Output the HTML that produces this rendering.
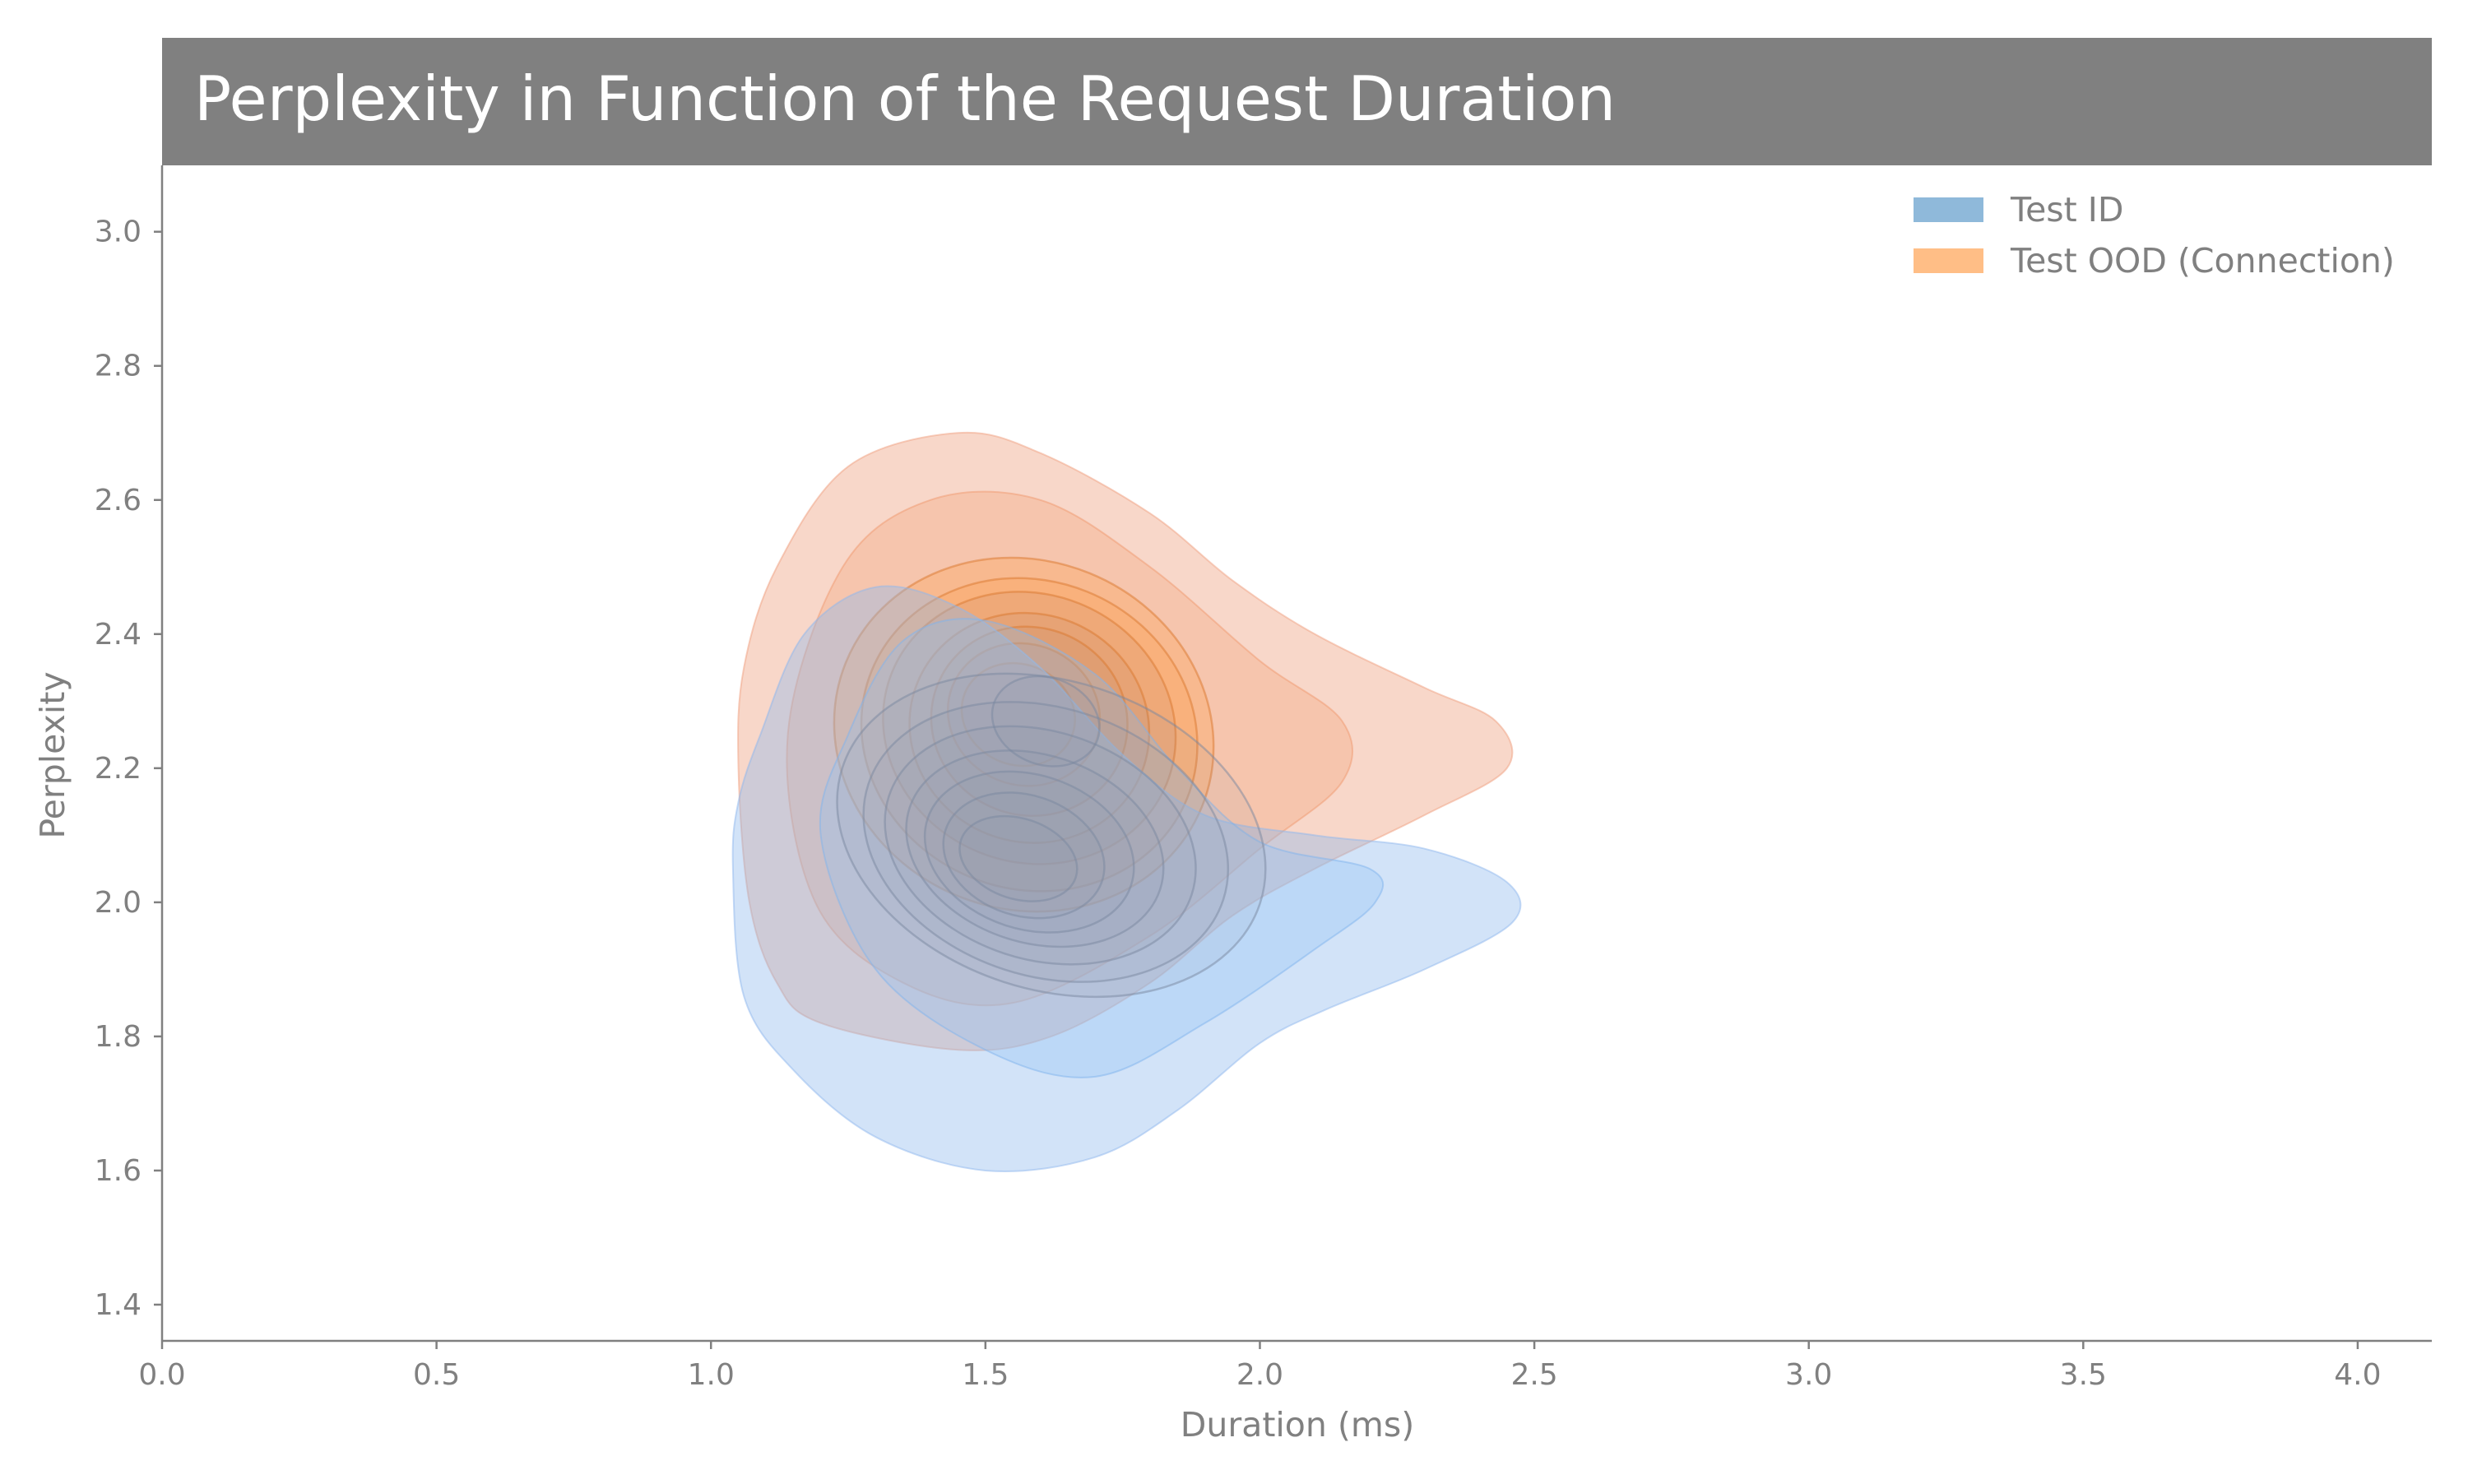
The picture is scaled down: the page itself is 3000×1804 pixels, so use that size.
<!DOCTYPE html>
<html><head><meta charset="utf-8">
<style>
html,body{margin:0;padding:0;background:#fff;}
body{width:3000px;height:1800px;overflow:hidden;font-family:"DejaVu Sans","Liberation Sans",sans-serif;}
svg text{font-family:"DejaVu Sans","Liberation Sans",sans-serif;}
</style></head>
<body>
<svg id="chart" width="3000" height="1800" viewBox="0 0 3000 1800" xmlns="http://www.w3.org/2000/svg">
  <rect x="197" y="46" width="2759" height="155" fill="#808080"/>
  <text x="236" y="146" font-size="75" fill="#ffffff">Perplexity in Function of the Request Duration</text>
  <g id="plot"></g>
  <g id="axes"></g>
  <g>
    <rect x="2326" y="240" width="85" height="30" fill="#8fb9da"/>
    <text x="2444" y="269" font-size="41" fill="#808080">Test ID</text>
    <rect x="2326" y="302" width="85" height="30" fill="#ffbe86"/>
    <text x="2444" y="331" font-size="41" fill="#808080">Test OOD (Connection)</text>
  </g>
  <text x="1577" y="1746" font-size="41" fill="#808080" text-anchor="middle">Duration (ms)</text>
  <text x="0" y="0" font-size="41" fill="#808080" text-anchor="middle" transform="translate(78,918) rotate(-90)">Perplexity</text>
</svg>
<script>
const xTicks = [0.0,0.5,1.0,1.5,2.0,2.5,3.0,3.5,4.0];
const yTicks = [1.4,1.6,1.8,2.0,2.2,2.4,2.6,2.8,3.0];
// outer contour levels (data coords: duration, perplexity)
const idOuter = [[1.04,2.05],[1.06,1.86],[1.15,1.75],[1.3,1.65],[1.5,1.60],[1.7,1.62],[1.85,1.69],[2.0,1.79],[2.12,1.84],[2.3,1.90],[2.46,1.97],[2.45,2.03],[2.3,2.08],[2.1,2.10],[1.9,2.13],[1.75,2.22],[1.6,2.35],[1.45,2.44],[1.3,2.47],[1.17,2.40],[1.09,2.25],[1.05,2.15]];
const idSecond = [[1.2,2.1],[1.3,1.9],[1.5,1.78],[1.7,1.74],[1.9,1.82],[2.1,1.93],[2.21,2.0],[2.2,2.05],[2.0,2.09],[1.85,2.2],[1.7,2.34],[1.5,2.42],[1.35,2.39],[1.25,2.25]];
const oodOuter = [[1.05,2.2],[1.07,2.0],[1.12,1.88],[1.2,1.82],[1.45,1.78],[1.62,1.80],[1.8,1.88],[1.95,1.98],[2.1,2.05],[2.3,2.13],[2.45,2.2],[2.43,2.27],[2.3,2.32],[2.1,2.40],[1.95,2.48],[1.8,2.58],[1.6,2.67],[1.45,2.70],[1.25,2.65],[1.12,2.5],[1.06,2.35]];
const oodSecond = [[1.14,2.25],[1.19,2.0],[1.35,1.88],[1.55,1.85],[1.8,1.95],[2.0,2.08],[2.15,2.18],[2.15,2.27],[2.0,2.36],[1.8,2.5],[1.6,2.6],[1.4,2.6],[1.24,2.5]];
// inner contour ellipses
const oodCx = [1.57,1.58,1.58,1.58,1.58,1.57,1.56];
const oodCy = [2.25,2.25,2.26,2.26,2.27,2.28,2.28];
const oodRx = [0.35,0.31,0.27,0.22,0.18,0.14,0.105];
const oodRy = [0.26,0.23,0.20,0.17,0.14,0.105,0.075];
const idCx = [1.62,1.61,1.60,1.59,1.58,1.57,1.56,1.61];
const idCy = [2.10,2.09,2.085,2.08,2.075,2.07,2.065,2.27];
const idRx = [0.40,0.34,0.29,0.24,0.195,0.15,0.11,0.10];
const idRy = [0.23,0.20,0.17,0.14,0.115,0.09,0.06,0.065];

const X0=197, X1=2956, Y0=1630, Y1=201;
const XMIN=0, XMAX=4.135, YMIN=1.346, YMAX=3.099;
function sx(v){return X0+(v-XMIN)/(XMAX-XMIN)*(X1-X0);}
function sy(v){return Y0-(v-YMIN)/(YMAX-YMIN)*(Y0-Y1);}
const NS='http://www.w3.org/2000/svg';
const plot=document.getElementById('plot');
const axes=document.getElementById('axes');

function smoothPath(pts){
  const p=pts.map(q=>[sx(q[0]),sy(q[1])]);const n=p.length;
  let d='M'+p[0][0]+','+p[0][1];
  for(let i=0;i<n;i++){
    const p0=p[(i-1+n)%n],p1=p[i],p2=p[(i+1)%n],p3=p[(i+2)%n];
    const c1=[p1[0]+(p2[0]-p0[0])/6,p1[1]+(p2[1]-p0[1])/6];
    const c2=[p2[0]-(p3[0]-p1[0])/6,p2[1]-(p3[1]-p1[1])/6];
    d+=' C'+c1+' '+c2+' '+p2;
  }
  return d+'Z';
}
function addPoly(pts,fill,op,stroke,name){
  const el=document.createElementNS(NS,'path');
  el.setAttribute('d',smoothPath(pts));
  el.setAttribute('fill',fill);el.setAttribute('fill-opacity',op);
  el.setAttribute('stroke',stroke);el.setAttribute('stroke-width','2');el.setAttribute('stroke-opacity','0.5');
  
  
  plot.appendChild(el);
}
function addEll(cx,cy,rx,ry,rot,fill,op,stroke,name){
  const el=document.createElementNS(NS,'ellipse');
  const px=sx(cx),py=sy(cy);
  el.setAttribute('cx',px);el.setAttribute('cy',py);
  el.setAttribute('rx',sx(cx+rx)-px);el.setAttribute('ry',py-sy(cy+ry));
  el.setAttribute('transform','rotate('+rot+' '+px+' '+py+')');
  el.setAttribute('fill',fill);el.setAttribute('fill-opacity',op);
  el.setAttribute('stroke',stroke);el.setAttribute('stroke-width','2.5');el.setAttribute('stroke-opacity','0.5');
  
  
  plot.appendChild(el);
}
// orange series
addPoly(oodOuter,'#eea07f',0.42,'#f0a080','ood-contour-1');
addPoly(oodSecond,'#f4a278',0.35,'#f09a70','ood-contour-2');
for(let i=0;i<oodCx.length;i++){
  addEll(oodCx[i],oodCy[i],oodRx[i],oodRy[i],22,i<2?'#fca35a':'#c98a68',i<2?0.35:0.2,'#d9782e','ood-contour-'+(i+3));
}
// blue series
addPoly(idOuter,'#8fb8ee',0.40,'#8fb8ee','id-contour-1');
addPoly(idSecond,'#8cc0f5',0.30,'#80b4ee','id-contour-2');
for(let i=0;i<idCx.length;i++){
  addEll(idCx[i],idCy[i],idRx[i],idRy[i],i===idCx.length-1?20:18,'#8090a8',0.09,'#7a88a0','id-contour-'+(i+3));
}
// axes
function line(x1,y1,x2,y2,name){
  const l=document.createElementNS(NS,'line');
  l.setAttribute('x1',x1);l.setAttribute('y1',y1);l.setAttribute('x2',x2);l.setAttribute('y2',y2);
  l.setAttribute('stroke','#808080');l.setAttribute('stroke-width','2.5');
  
  
  axes.appendChild(l);
}
line(X0,Y1,X0,Y0,'y-axis-line');
line(X0,Y0,X1,Y0,'x-axis-line');
xTicks.forEach(v=>{
  const x=sx(v);line(x,Y0,x,Y0+10,'x-tick');
  const t=document.createElementNS(NS,'text');
  t.setAttribute('x',x);t.setAttribute('y',Y0+53);t.setAttribute('font-size','36');t.setAttribute('fill','#808080');t.setAttribute('text-anchor','middle');
  t.textContent=v.toFixed(1);
  
  
  axes.appendChild(t);
});
yTicks.forEach(v=>{
  const y=sy(v);line(X0-10,y,X0,y,'y-tick');
  const t=document.createElementNS(NS,'text');
  t.setAttribute('x',X0-25);t.setAttribute('y',y+12);t.setAttribute('font-size','36');t.setAttribute('fill','#808080');t.setAttribute('text-anchor','end');
  t.textContent=v.toFixed(1);
  
  
  axes.appendChild(t);
});
</script>
</body></html>
